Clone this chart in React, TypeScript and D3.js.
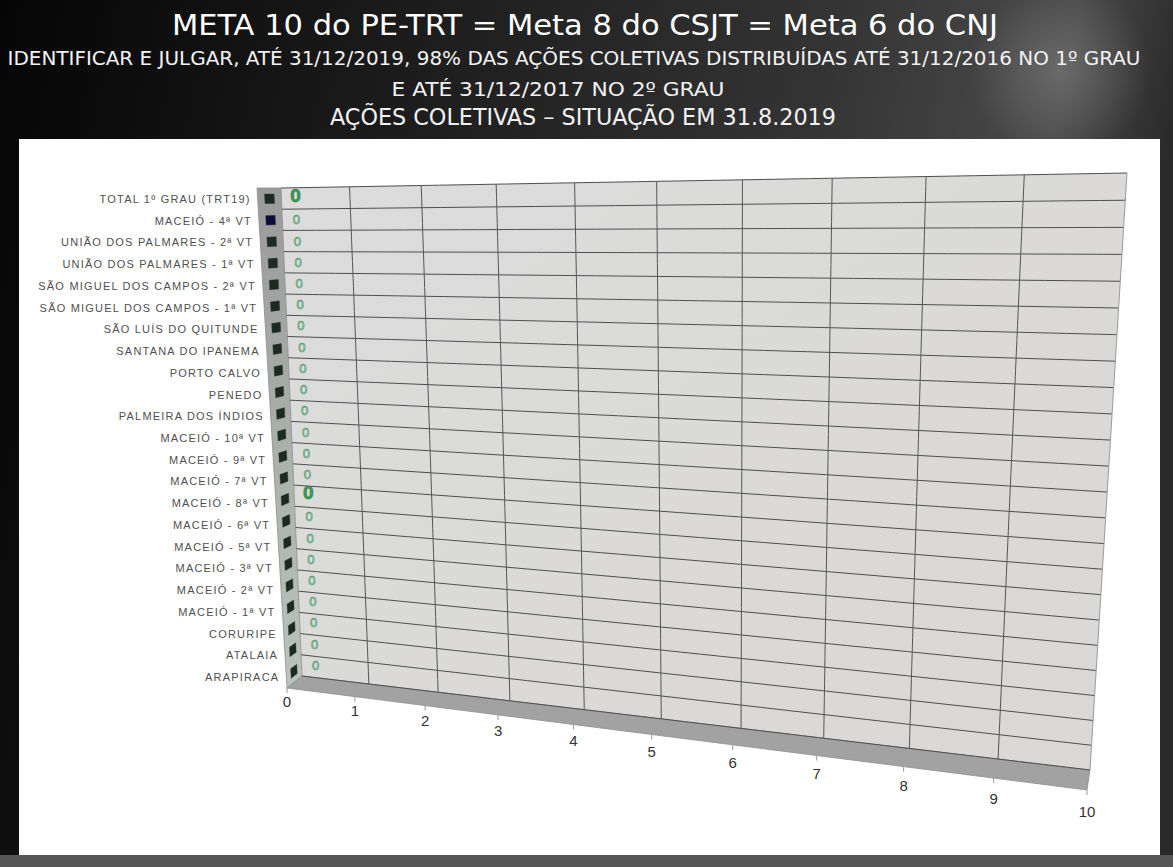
import React from "react";
import * as d3 from "d3";

// ---------- data ----------
const titleMain = "META 10 do PE-TRT = Meta 8 do CSJT = Meta 6 do CNJ";
const subtitleLines = [
  "IDENTIFICAR E JULGAR, ATÉ 31/12/2019, 98% DAS AÇÕES COLETIVAS DISTRIBUÍDAS ATÉ 31/12/2016 NO 1º GRAU",
  "E ATÉ 31/12/2017 NO 2º GRAU",
];
const titleSituation = "AÇÕES COLETIVAS – SITUAÇÃO EM 31.8.2019";

const categories = [
  "TOTAL 1º GRAU (TRT19)",
  "MACEIÓ - 4ª VT",
  "UNIÃO DOS PALMARES - 2ª VT",
  "UNIÃO DOS PALMARES - 1ª VT",
  "SÃO MIGUEL DOS CAMPOS - 2ª VT",
  "SÃO MIGUEL DOS CAMPOS - 1ª VT",
  "SÃO LUÍS DO QUITUNDE",
  "SANTANA DO IPANEMA",
  "PORTO CALVO",
  "PENEDO",
  "PALMEIRA DOS ÍNDIOS",
  "MACEIÓ - 10ª VT",
  "MACEIÓ - 9ª VT",
  "MACEIÓ - 7ª VT",
  "MACEIÓ - 8ª VT",
  "MACEIÓ - 6ª VT",
  "MACEIÓ - 5ª VT",
  "MACEIÓ - 3ª VT",
  "MACEIÓ - 2ª VT",
  "MACEIÓ - 1ª VT",
  "CORURIPE",
  "ATALAIA",
  "ARAPIRACA",
];
const values = [0, 0, 0, 0, 0, 0, 0, 0, 0, 0, 0, 0, 0, 0, 0, 0, 0, 0, 0, 0, 0, 0, 0];
const xTicks = [0, 1, 2, 3, 4, 5, 6, 7, 8, 9, 10];
const emphasizedLabels = ["TOTAL 1º GRAU (TRT19)", "MACEIÓ - 8ª VT"];
const navyBars = ["MACEIÓ - 4ª VT"];

// ---------- layout (perspective box) ----------
const W = 1173;
const H = 867;
const TL = [281, 188];
const TR = [1127, 173];
const BR = [1090, 770];
const BL = [302, 676];
const DTL = [-24, 0];
const DTR = [-8, 0];
const DBL = [-15, 12];
const DBR = [-3, 20];
const R_TOP = 1.046;
const R_BOT = 1.036;
const Q_ROW = 0.99557;

const lerp = (a: number, b: number, f: number) => a + (b - a) * f;
const lerp2 = (a: number[], b: number[], f: number) => [lerp(a[0], b[0], f), lerp(a[1], b[1], f)];

const xScale = d3.scaleLinear().domain([xTicks[0], xTicks[xTicks.length - 1]]).range([0, 1]);
const yBand = d3
  .scaleBand<string>()
  .domain(categories)
  .range([0, 1])
  .paddingInner(0.56)
  .paddingOuter(0.28);

const nRows = categories.length;

function project(v: number, t: number, d: number): [number, number] {
  const f = xScale(v);
  const r = lerp(R_TOP, R_BOT, t);
  const steps = xTicks[xTicks.length - 1] - xTicks[0];
  const u = (Math.pow(r, f * steps) - 1) / (Math.pow(r, steps) - 1);
  const tw = (Math.pow(Q_ROW, nRows * t) - 1) / (Math.pow(Q_ROW, nRows) - 1);
  const s = lerp(t, tw, u);
  const top = lerp2(TL, TR, u);
  const bot = lerp2(BL, BR, u);
  const back = lerp2(top, bot, s);
  const dTop = lerp2(DTL, DTR, u);
  const dBot = lerp2(DBL, DBR, u);
  const D = lerp2(dTop, dBot, s);
  return [back[0] + d * D[0], back[1] + d * D[1]];
}

const line = d3.line<[number, number]>();
const samples = d3.range(0, 1.0001, 1 / 40);
const vMin = xTicks[0];
const vMax = xTicks[xTicks.length - 1];
const vSamples = samples.map((f) => xScale.invert(f));

function polygon(pts: [number, number][]) {
  return line(pts) + "Z";
}

export default function App() {
  const step = yBand.step();
  const rowBounds = d3.range(nRows + 1).map((i) => i * step);

  const backWall = polygon([
    ...vSamples.map((v) => project(v, 0, 0)),
    ...samples.map((t) => project(vMax, t, 0)),
    ...vSamples.slice().reverse().map((v) => project(v, 1, 0)),
    ...samples.slice().reverse().map((t) => project(vMin, t, 0)),
  ]);
  const floor = polygon([
    ...vSamples.map((v) => project(v, 1, 0)),
    ...vSamples.slice().reverse().map((v) => project(v, 1, 1)),
  ]);
  const sideWall = polygon([
    ...samples.map((t) => project(vMin, t, 0)),
    ...samples.slice().reverse().map((t) => project(vMin, t, 1)),
  ]);

  const hLines = rowBounds.map((t) => line(vSamples.map((v) => project(v, t, 0))));
  const vLines = xTicks.filter((v) => v > vMin).map((v) => line(samples.map((t) => project(v, t, 0))));

  const title = "'Liberation Sans Narrow', 'DejaVu Sans Condensed', 'Liberation Sans', sans-serif";
  const sans = "'Liberation Sans', Arial, sans-serif";

  return (
    <svg
      width={W}
      height={H}
      viewBox={`0 0 ${W} ${H}`}
      style={{ position: "absolute", left: 0, top: 0, display: "block" }}
    >
      <defs>
        <linearGradient id="bg" x1="0" y1="0" x2="1" y2="0.15">
          <stop offset="0" stopColor="#050505" />
          <stop offset="0.35" stopColor="#1c1c1c" />
          <stop offset="0.7" stopColor="#343434" />
          <stop offset="0.9" stopColor="#4a4a4a" />
          <stop offset="1" stopColor="#2a2a2a" />
        </linearGradient>
        <radialGradient id="sheen" cx="0.5" cy="0.5" r="0.5">
          <stop offset="0" stopColor="#8a8a8a" stopOpacity="0.5" />
          <stop offset="1" stopColor="#8a8a8a" stopOpacity="0" />
        </radialGradient>
        <linearGradient id="side" x1="0" y1="0" x2="0" y2="1">
          <stop offset="0" stopColor="#9a9a9a" />
          <stop offset="1" stopColor="#b9c4bc" />
        </linearGradient>
        <linearGradient id="wall" x1="0" y1="0" x2="1" y2="1">
          <stop offset="0" stopColor="#dcdcdc" />
          <stop offset="1" stopColor="#d9d8d6" />
        </linearGradient>
      </defs>

      <rect x={0} y={0} width={W} height={H} fill="url(#bg)" />
      <ellipse cx={1060} cy={70} rx={90} ry={90} fill="url(#sheen)" />
      <rect x={0} y={855} width={W} height={12} fill="#555" />

      {/* header */}
      <text
        x={585}
        y={35}
        fill="#ffffff"
        fontFamily={title}
        fontSize={29}
        textAnchor="middle"
        textLength={826}
        lengthAdjust="spacingAndGlyphs"
      >
        {titleMain}
      </text>
      <text
        x={574}
        y={65}
        fill="#f2f2f2"
        fontFamily={title}
        fontSize={19}
        textAnchor="middle"
        textLength={1133}
        lengthAdjust="spacingAndGlyphs"
      >
        {subtitleLines[0]}
      </text>
      <text
        x={558}
        y={96}
        fill="#f2f2f2"
        fontFamily={title}
        fontSize={19}
        textAnchor="middle"
        textLength={333}
        lengthAdjust="spacingAndGlyphs"
      >
        {subtitleLines[1]}
      </text>
      <text
        x={583}
        y={125}
        fill="#f2f2f2"
        fontFamily={title}
        fontSize={23}
        textAnchor="middle"
        textLength={506}
        lengthAdjust="spacingAndGlyphs"
      >
        {titleSituation}
      </text>

      {/* white panel */}
      <rect x={19} y={139} width={1141} height={716} fill="#ffffff" />

      {/* 3D box */}
      <path d={backWall} fill="url(#wall)" stroke="none" />
      <path d={sideWall} fill="url(#side)" stroke="#8d8d8d" strokeWidth={0.8} />
      <path d={floor} fill="#a2a2a2" stroke="#8f8f8f" strokeWidth={0.8} />
      {hLines.map((d, i) => (
        <path key={"h" + i} d={d || ""} fill="none" stroke="#4e4e4e" strokeWidth={1} />
      ))}
      {vLines.map((d, i) => (
        <path
          key={"v" + i}
          d={d || ""}
          fill="none"
          stroke={i === vLines.length - 1 ? "#9a9a9a" : "#555"}
          strokeWidth={1}
        />
      ))}

      {/* ticks */}
      {xTicks.map((v) => {
        const [fx, fy] = project(v, 1, 1);
        const [, by] = project(v, 1, 0);
        const dy = fy - by;
        return (
          <g key={"t" + v}>
            <line x1={fx} y1={fy} x2={fx} y2={fy + 5} stroke="#999" strokeWidth={1} />
            <text
              x={fx}
              y={fy + dy + 1}
              fontFamily={sans}
              fontSize={15}
              fill="#333"
              textAnchor="middle"
              dominantBaseline="central"
            >
              {v}
            </text>
          </g>
        );
      })}

      {/* bars (zero-length: end caps) */}
      {categories.map((c, i) => {
        const t0 = yBand(c) as number;
        const t1 = t0 + yBand.bandwidth();
        const v = values[i];
        const fill = navyBars.includes(c) ? "#0b0b3c" : "#1c2b22";
        const cap = polygon([
          project(v, t0, 0.3),
          project(v, t0, 0.7),
          project(v, t1, 0.7),
          project(v, t1, 0.3),
        ]);
        const front = polygon([
          project(vMin, t0, 0.7),
          project(v, t0, 0.7),
          project(v, t1, 0.7),
          project(vMin, t1, 0.7),
        ]);
        return (
          <g key={"b" + i}>
            {v > vMin && <path d={front} fill={fill} />}
            <path d={cap} fill={fill} stroke="#2a2a2a" strokeWidth={0.4} />
          </g>
        );
      })}

      {/* data labels */}
      {categories.map((c, i) => {
        const tc = (yBand(c) as number) + yBand.bandwidth() / 2;
        const [x, y] = project(values[i], tc, 0);
        const emph = emphasizedLabels.includes(c);
        return (
          <text
            key={"dl" + i}
            x={x + 14}
            y={y + (emph ? -3 : 0)}
            fontFamily={sans}
            fontSize={emph ? 19 : 13}
            fontWeight={emph ? "bold" : "normal"}
            fill={emph ? "#3f9a58" : "#b7dcc4"}
            stroke={emph ? "#1f7a3a" : "#4a9568"}
            strokeWidth={0.6}
            textAnchor="middle"
            dominantBaseline="central"
          >
            {values[i]}
          </text>
        );
      })}

      {/* category labels */}
      {categories.map((c) => {
        const tc = (yBand(c) as number) + yBand.bandwidth() / 2;
        const [x, y] = project(vMin, tc, 1);
        return (
          <text
            key={"cl" + c}
            x={x - 7}
            y={y}
            fontFamily={sans}
            fontSize={11}
            letterSpacing={1.2}
            fill="#505050"
            textAnchor="end"
            dominantBaseline="central"
          >
            {c}
          </text>
        );
      })}
    </svg>
  );
}
